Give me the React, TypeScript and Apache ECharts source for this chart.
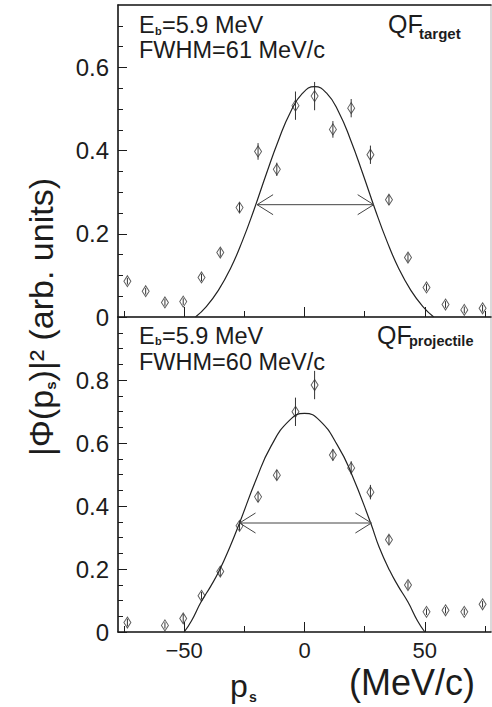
import React, { useEffect, useRef } from "react";
import * as echarts from "echarts";

// ---- data ----
const pCenters = [-73.6, -66, -58, -50.4, -42.8, -35, -27, -19.3, -11.5, -3.75, 4.2, 11.8, 19.4, 27.4, 35.1, 43, 50.7, 58.6, 66.4, 74];
const targetValues = [0.086, 0.062, 0.035, 0.037, 0.095, 0.155, 0.263, 0.398, 0.355, 0.508, 0.531, 0.451, 0.502, 0.39, 0.282, 0.143, 0.071, 0.03, 0.017, 0.021];
const targetErrors = [0.008, 0.008, 0.008, 0.008, 0.009, 0.01, 0.012, 0.02, 0.016, 0.034, 0.034, 0.02, 0.022, 0.022, 0.012, 0.01, 0.008, 0.008, 0.008, 0.008];
const projValues = [0.03, null, 0.021, 0.043, 0.115, 0.192, 0.337, 0.429, 0.498, 0.699, 0.784, 0.562, 0.521, 0.444, 0.293, 0.149, 0.064, 0.069, 0.064, 0.088];
const projErrors = [0.012, 0, 0.01, 0.014, 0.012, 0.015, 0.015, 0.016, 0.016, 0.045, 0.045, 0.018, 0.021, 0.023, 0.015, 0.012, 0.01, 0.01, 0.01, 0.01];

const targetFitX = [-45.3, -40.8, -35.8, -30.8, -25.8, -20.8, -15.8, -10.8, -5.8, -0.8, 4.2, 9.2, 14.2, 19.2, 24.2, 29.2, 34.2, 39.2, 44.2, 49.2, 53.7];
const targetFitY = [0, 0.025, 0.064, 0.116, 0.183, 0.261, 0.345, 0.425, 0.493, 0.538, 0.554, 0.538, 0.493, 0.425, 0.345, 0.261, 0.183, 0.116, 0.064, 0.025, 0];
const projFitX = [-50, -47, -43, -39, -35.4, -31, -27, -20.1, -13.9, -6.25, 0, 6.25, 13.9, 19.4, 27.5, 31, 35.4, 39, 43, 47, 50];
const projFitY = [0, 0.035, 0.095, 0.145, 0.195, 0.27, 0.346, 0.484, 0.59, 0.672, 0.694, 0.672, 0.59, 0.505, 0.346, 0.27, 0.195, 0.145, 0.095, 0.035, 0];

// FWHM arrows: [from, to, height]
const targetFwhm = [-19.7, 28.75, 0.27];
const projFwhm = [-27, 27.8, 0.346];

const xMin = -77.5;
const xMax = 77.5;
const xMajorTicks = [-50, 0, 50];
const xMinorTicks = [-75, -25, 25, 75];
const targetYMax = 0.75;
const projYMax = 1.0;
const targetYLabels = [0, 0.2, 0.4, 0.6];
const projYLabels = [0, 0.2, 0.4, 0.6, 0.8];
const yMinorStep = 0.05;

const FONT = '"Liberation Sans", Arial, Helvetica, sans-serif';
const INK = "#1c1c1c";

function minorTicks(max: number, majors: number[]) {
  const out: number[] = [];
  for (let k = 1; k * yMinorStep < max - 1e-9; k++) {
    const v = Math.round(k * yMinorStep * 100) / 100;
    if (!majors.some((m) => Math.abs(m - v) < 1e-9)) out.push(v);
  }
  return out;
}

function errBar(params: any, api: any) {
  const x = api.value(0);
  const y = api.value(1);
  const e = api.value(2);
  if (!e) return null;
  const a = api.coord([x, y - e]);
  const b = api.coord([x, y + e]);
  return {
    type: "line",
    shape: { x1: a[0], y1: a[1], x2: b[0], y2: b[1] },
    style: { stroke: "#333", lineWidth: 1 },
  };
}

function arrow(params: any, api: any) {
  const p1 = api.coord([api.value(0), api.value(2)]);
  const p2 = api.coord([api.value(1), api.value(2)]);
  const hx = 16;
  const hy = 10;
  const st = { stroke: "#444", lineWidth: 1, fill: "none" };
  return {
    type: "group",
    children: [
      { type: "line", shape: { x1: p1[0], y1: p1[1], x2: p2[0], y2: p2[1] }, style: st },
      { type: "polyline", shape: { points: [[p1[0] + hx, p1[1] - hy], [p1[0], p1[1]], [p1[0] + hx, p1[1] + hy]] }, style: st },
      { type: "polyline", shape: { points: [[p2[0] - hx, p2[1] - hy], [p2[0], p2[1]], [p2[0] - hx, p2[1] + hy]] }, style: st },
    ],
  };
}

function txt(x: number, y: number, text: string, size: number, bold = false) {
  return {
    type: "text",
    x,
    y,
    z: 100,
    style: {
      text,
      fill: INK,
      fontSize: size,
      fontFamily: FONT,
      fontWeight: bold ? "bold" : "normal",
      textAlign: "left",
      align: "left",
      textVerticalAlign: "middle",
      verticalAlign: "middle",
    },
  };
}

function buildOption() {
  const axisLine = { show: true, onZero: false, lineStyle: { color: INK, width: 1.6 } };
  const noLine = { show: false, onZero: false };
  const tickStyle = { color: INK, width: 1 };
  const xCommon = { type: "value", min: xMin, max: xMax, splitLine: { show: false } };
  const xLabelFmt = (v: number) => (v < 0 ? "\u2212" + Math.abs(v) : String(v));

  const xAxis = [
    { ...xCommon, gridIndex: 0, position: "bottom", axisLine, axisTick: { show: true, inside: true, length: 10, customValues: xMajorTicks, lineStyle: tickStyle }, axisLabel: { show: false } },
    { ...xCommon, gridIndex: 0, position: "bottom", axisLine: noLine, axisTick: { show: true, inside: true, length: 6, customValues: xMinorTicks, lineStyle: tickStyle }, axisLabel: { show: false } },
    { ...xCommon, gridIndex: 0, position: "top", axisLine, axisTick: { show: false }, axisLabel: { show: false } },
    {
      ...xCommon, gridIndex: 1, position: "bottom", axisLine,
      axisTick: { show: true, inside: true, length: 10, customValues: xMajorTicks, lineStyle: tickStyle },
      axisLabel: { show: true, customValues: xMajorTicks, formatter: xLabelFmt, fontSize: 22, fontFamily: FONT, color: INK, margin: 7 },
    },
    { ...xCommon, gridIndex: 1, position: "bottom", axisLine: noLine, axisTick: { show: true, inside: true, length: 6, customValues: xMinorTicks, lineStyle: tickStyle }, axisLabel: { show: false } },
  ];

  const yLabelFmt = (v: number) => String(Math.round(v * 10) / 10);
  const yMajor = (gridIndex: number, max: number, labels: number[]) => ({
    type: "value", gridIndex, min: 0, max, position: "left", splitLine: { show: false }, axisLine,
    axisTick: { show: true, inside: true, length: 9, customValues: labels, lineStyle: tickStyle },
    axisLabel: { show: true, customValues: labels, formatter: yLabelFmt, fontSize: 24, fontFamily: FONT, color: INK, margin: 9 },
  });
  const yMinor = (gridIndex: number, max: number, labels: number[]) => ({
    type: "value", gridIndex, min: 0, max, position: "left", splitLine: { show: false }, axisLine: noLine,
    axisTick: { show: true, inside: true, length: 5, customValues: minorTicks(max, labels), lineStyle: tickStyle },
    axisLabel: { show: false },
  });
  const yAxis = [
    yMajor(0, targetYMax, targetYLabels),
    yMinor(0, targetYMax, targetYLabels),
    yMajor(1, projYMax, projYLabels),
    yMinor(1, projYMax, projYLabels),
  ];

  const panelSeries = (xi: number, yi: number, vals: (number | null)[], errs: number[], fx: number[], fy: number[], fwhm: number[]) => {
    const pts: number[][] = [];
    const eb: number[][] = [];
    pCenters.forEach((x, i) => {
      const v = vals[i];
      if (v === null || v === undefined) return;
      pts.push([x, v]);
      eb.push([x, v, errs[i]]);
    });
    return [
      { type: "custom", xAxisIndex: xi, yAxisIndex: yi, renderItem: errBar, data: eb, encode: { x: 0, y: 1 }, z: 3, silent: true },
      {
        type: "scatter", xAxisIndex: xi, yAxisIndex: yi, data: pts, symbol: "diamond", symbolSize: [7, 11],
        itemStyle: { color: "rgba(255,255,255,0)", borderColor: "#333", borderWidth: 1 }, z: 4, silent: true,
      },
      {
        type: "line", xAxisIndex: xi, yAxisIndex: yi, data: fx.map((x, i) => [x, fy[i]]), smooth: true, showSymbol: false, symbol: "none",
        lineStyle: { color: "#222", width: 1.2 }, z: 5, silent: true,
      },
      { type: "custom", xAxisIndex: xi, yAxisIndex: yi, renderItem: arrow, data: [fwhm], encode: { x: [0, 1], y: 2 }, z: 6, silent: true },
    ];
  };

  return {
    animation: false,
    backgroundColor: "#fff",
    textStyle: { fontFamily: FONT },
    grid: [
      { left: 118, top: 5, width: 373, height: 312, show: true, borderColor: "#b5b5b5", borderWidth: 1, backgroundColor: "rgba(0,0,0,0)", containLabel: false },
      { left: 118, top: 317, width: 373, height: 315, show: true, borderColor: "#b5b5b5", borderWidth: 1, backgroundColor: "rgba(0,0,0,0)", containLabel: false },
    ],
    xAxis,
    yAxis,
    series: [
      ...panelSeries(0, 0, targetValues, targetErrors, targetFitX, targetFitY, targetFwhm),
      ...panelSeries(3, 2, projValues, projErrors, projFitX, projFitY, projFwhm),
    ],
    graphic: [
      // top panel annotations
      txt(139, 24.5, "E", 23.5),
      txt(155, 30.6, "b", 11, true),
      txt(162, 24.5, "=5.9 MeV", 23.5),
      txt(139, 50.2, "FWHM=61 MeV/c", 23.5),
      txt(388, 23.6, "QF", 25),
      txt(419, 33.6, "target", 15, true),
      // bottom panel annotations
      txt(139, 335.6, "E", 23.5),
      txt(155, 341.4, "b", 11, true),
      txt(162, 335.6, "=5.9 MeV", 23.5),
      txt(139, 361.6, "FWHM=60 MeV/c", 23.5),
      txt(377, 334.6, "QF", 25),
      txt(409, 341, "projectile", 14.5, true),
      // x title
      txt(230, 685.8, "p", 32),
      txt(249, 697, "s", 14, true),
      txt(349, 682.8, "(MeV/c)", 36),
      // y title
      {
        type: "text",
        x: 38,
        y: 317,
        rotation: Math.PI / 2,
        z: 100,
        style: {
          text: "{n||\u03A6(p}{s|s}{n|)|\u00B2 (arb. units)}",
          textAlign: "center",
          align: "center",
          textVerticalAlign: "middle",
          verticalAlign: "middle",
          fill: INK,
          rich: {
            n: { fontSize: 34, fontFamily: FONT, fill: INK, lineHeight: 40, verticalAlign: "bottom" },
            s: { fontSize: 15, fontFamily: FONT, fontWeight: "bold", fill: INK, lineHeight: 15, verticalAlign: "bottom" },
          },
        },
      },
    ],
  };
}

export default function App() {
  const ref = useRef<HTMLDivElement>(null);
  useEffect(() => {
    if (!ref.current) return;
    const chart = echarts.init(ref.current, null, { renderer: "svg" });
    chart.setOption(buildOption() as any);
    return () => chart.dispose();
  }, []);
  return (
    <div
      ref={ref}
      style={{ position: "fixed", left: 0, top: 0, width: 492, height: 707, background: "#fff" }}
    />
  );
}
